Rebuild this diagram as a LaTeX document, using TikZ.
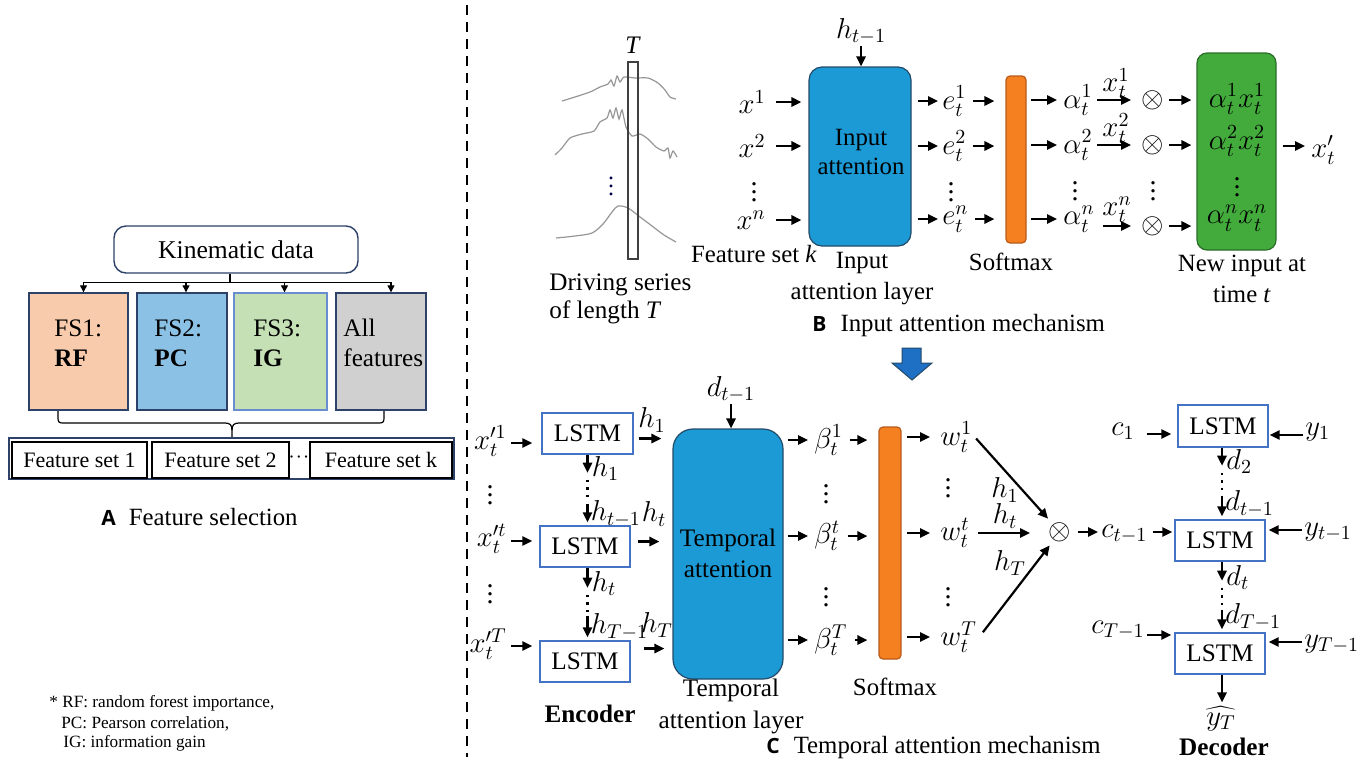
\documentclass[tikz,border=0pt]{standalone}
\usepackage{fontspec}
\setmainfont{Liberation Serif}
\newfontfamily\labfont{Open Sans}
\usetikzlibrary{arrows.meta,fit,calc}
\definecolor{attblue}{RGB}{27,154,214}
\definecolor{attborder}{RGB}{35,75,105}
\definecolor{smorange}{RGB}{245,128,31}
\definecolor{smborder}{RGB}{185,90,25}
\definecolor{grfill}{RGB}{66,171,60}
\definecolor{grborder}{RGB}{40,110,40}
\definecolor{lstmblue}{RGB}{68,114,196}
\definecolor{fsone}{RGB}{248,203,173}
\definecolor{fstwo}{RGB}{140,193,230}
\definecolor{fsthree}{RGB}{197,224,180}
\definecolor{fsall}{RGB}{208,208,208}
\definecolor{navy}{RGB}{45,65,105}
\definecolor{curvegray}{RGB}{150,150,150}
\definecolor{bigarrow}{RGB}{30,112,196}
\tikzset{
  txt/.style={font=\fontsize{12.4}{14.5}\selectfont, inner sep=0pt},
  ml/.style={font=\fontsize{14}{16}\selectfont, inner sep=1pt},
  arr/.style={line width=1.1pt, -{Triangle[length=5pt,width=4.6pt]}},
  arrA/.style={line width=0.6pt, -{Triangle[length=3.5pt,width=3.5pt]}},
  thinline/.style={line width=0.6pt},
  attbox/.style={draw=attborder, fill=attblue, line width=0.6pt, inner sep=0pt},
  smbar/.style={draw=smborder, fill=smorange, line width=0.6pt, rounded corners=2pt, inner sep=0pt},
  lstm/.style={draw=lstmblue, line width=0.7pt, inner sep=0pt},
  lstmtxt/.style={inner sep=0pt, font=\fontsize{12.6}{14}\selectfont},
  fsbox/.style={draw=navy, line width=0.7pt, inner sep=0pt},
  fsetbox/.style={draw=black, line width=0.9pt, inner sep=0pt},
  fsettxt/.style={inner sep=0pt, font=\fontsize{11}{13}\selectfont},
  vdots/.style={line width=1.3pt, dash pattern=on 1.3pt off 2.4pt},
  lab/.style={font=\fontsize{12.4}{14.5}\selectfont, inner sep=0pt, anchor=west},
}
\newcommand{\panellab}[1]{{\fontsize{10.5}{12}\labfont\bfseries #1}}
\begin{document}
\begin{tikzpicture}[x=0.5pt,y=-0.5pt]
\useasboundingbox (0,0) rectangle (1363,761);

%%%%%%%%%%%%%%%% Panel A
\node[draw=navy, rounded corners=6pt, line width=0.7pt, inner sep=0pt, fit={(114,226)(358,273)}] (kin) {};
\node[inner sep=0pt, font=\fontsize{12.8}{15}\selectfont] (kint) at (kin.center) {Kinematic data};
\node[fsbox, fill=fsone,   fit={(29,293)(128,410)}] (fs1) {};
\node[fsbox, fill=fstwo,   fit={(137,293)(227,410)}] (fs2) {};
\node[fsbox, fill=fsthree, draw=lstmblue!80, fit={(234,293)(327,410)}] (fs3) {};
\node[fsbox, fill=fsall,   fit={(336,293)(426,410)}] (fs4) {};
\node[txt, font=\fontsize{12.6}{15}\selectfont, anchor=west, align=left] (fs1t) at (54,343) {FS1:\\\textbf{RF}};
\node[txt, font=\fontsize{12.6}{15}\selectfont, anchor=west, align=left] (fs2t) at (154,343) {FS2:\\\textbf{PC}};
\node[txt, font=\fontsize{12.6}{15}\selectfont, anchor=west, align=left] (fs3t) at (253,343) {FS3:\\\textbf{IG}};
\node[txt, font=\fontsize{12.6}{15}\selectfont, anchor=west, align=left] (fs4t) at (343,343) {All\\features};
\coordinate (ksplit) at ($(kin.south)+(-6,9)$);
\draw[thinline] (kin.south -| ksplit) -- (ksplit);
\draw[arrA] (ksplit) -| ([xshift=2.5pt]fs1.north);
\draw[arrA] (ksplit) -| ([xshift=2pt]fs2.north);
\draw[arrA] (ksplit) -| ([xshift=2pt]fs3.north);
\draw[arrA] (ksplit) -| ([xshift=5pt]fs4.north);
% brace
\draw[thinline] (58,411) -- (58,418) .. controls (58,422) and (59,423) .. (63,423) -- (225,423)
   .. controls (230,423) and (232,425) .. (232,430) -- (232,438);
\draw[thinline] (384,411) -- (384,418) .. controls (384,422) and (383,423) .. (379,423) -- (239,423)
   .. controls (234,423) and (232,425) .. (232,430);
\node[draw=navy, line width=0.6pt, inner sep=0pt, fit={(9,438)(454,479)}] (fsrow) {};
\node[fsetbox, fit={(12,442)(147,478)}] (fsa) {};
\node[fsettxt] (fsat) at (fsa.center) {Feature set 1};
\node[fsetbox, fit={(152,442)(289,478)}] (fsb) {};
\node[fsettxt] (fsbt) at (fsb.center) {Feature set 2};
\node[inner sep=0pt, font=\fontsize{11}{13}\selectfont] (fsdots) at (299,458) {$\cdot\!\cdot\!\cdot$};
\node[fsetbox, fit={(310,442)(452,478)}] (fsc) {};
\node[fsettxt] (fsct) at (fsc.center) {Feature set k};
\node[lab] (capA) at (101,517) {\panellab{A}\hspace{6.5pt}Feature selection};
% footnote
\node[anchor=west, inner sep=0pt, font=\fontsize{8.6}{10}\selectfont] (fn1) at (49,703) {* RF: random forest importance,};
\node[anchor=west, inner sep=0pt, font=\fontsize{8.6}{10}\selectfont] (fn2) at (61,724) {PC: Pearson correlation,};
\node[anchor=west, inner sep=0pt, font=\fontsize{8.6}{10}\selectfont] (fn3) at (63,743) {IG: information gain};

%%%%%%%%%%%%%%%% separator
\coordinate (sepT) at (467,5);
\coordinate (sepB) at (467,757);
\draw[line width=1.2pt, dash pattern=on 5pt off 3.5pt] (sepT) -- (sepB);

%%%%%%%%%%%%%%%% Panel B
% driving series
\draw[curvegray, line width=0.6pt] plot[smooth, tension=0.4] coordinates {(562,101) (575,97) (590,92) (600,87) (608,84) (611,80) (614,86) (617,76) (620,82) (624,77) (635,78) (648,78) (658,83) (665,90) (670,97) (676,99)};
\draw[curvegray, line width=0.6pt] plot[smooth, tension=0.4] coordinates {(555,155) (562,148) (570,138) (582,134) (594,131) (600,122) (607,118) (610,110) (613,118) (616,108) (619,119) (622,110) (626,127) (632,136) (640,134) (648,139) (656,147) (664,151) (668,148) (670,158) (673,151) (677,157)};
\draw[curvegray, line width=0.6pt] plot[smooth, tension=0.5] coordinates {(556,238) (575,236) (592,233) (603,224) (612,212) (618,206) (628,208) (640,217) (652,226) (664,235) (676,242)};
\node[draw=black!75, line width=0.7pt, inner sep=0pt, fit={(628,62)(638,259)}] (win) {};
\node[txt, font=\fontsize{12.6}{14}\selectfont] (Tlab) at (633,45) {\textit{T}};
\node[ml, font=\fontsize{12}{14}\selectfont, text=black!70!blue] (drdots) at (611,180) {$\vdots$};
\node[txt, anchor=west, align=left, font=\fontsize{12.6}{14}\selectfont] (drv) at (549,299) {Driving series\\of length \textit{T}};

% input attention
\node[attbox, rounded corners=6.5pt, fit={(809,67)(911,246)}] (ia) {};
\node[txt, align=center] (iat) at (861,152) {Input\\attention};
\node[ml] (hprev) at (861,31) {$h_{t-1}$};
\draw[arr, shorten <=0pt] (hprev) -- (ia.north -| hprev);
\node[ml, anchor=east] (x1) at (768,102) {$x^1$};
\node[ml, anchor=east] (x2) at (768,146) {$x^2$};
\node[ml] (xd) at (754,186) {$\vdots$};
\node[ml, anchor=east] (xn) at (768,220) {$x^n$};
\foreach \n in {x1,x2,xn}{
  \draw[arr, shorten <=4pt, shorten >=3.5pt] (\n.east) -- (\n.east -| ia.west);
}
\node[txt] (fsk) at (754,254) {Feature set \textit{k}};
\node[txt, align=center, font=\fontsize{12.4}{15.5}\selectfont] (ialay) at (862,279) {Input\\attention layer};

\node[ml, anchor=west] (e1) at (940,101) {$e_t^1$};
\node[ml, anchor=west] (e2) at (940,146) {$e_t^2$};
\node[ml] (ed) at (951,186) {$\vdots$};
\node[ml, anchor=west] (en) at (940,219) {$e_t^n$};
\node[smbar, fit={(1006,76)(1026,243)}] (sm1) {};
\node[txt] (sm1t) at (1011,262) {Softmax};
\foreach \n in {e1,e2,en}{
  \draw[arr, shorten <=3pt, shorten >=1pt] (ia.east |- \n.west) -- (\n.west);
  \draw[arr, shorten <=2pt, shorten >=5.5pt] (\n.east) -- (\n.east -| sm1.west);
}
\node[ml, anchor=west] (a1) at (1061,100) {$\alpha_t^1$};
\node[ml, anchor=west] (a2) at (1061,145) {$\alpha_t^2$};
\node[ml] (ad) at (1075,185) {$\vdots$};
\node[ml, anchor=west] (an) at (1061,219) {$\alpha_t^n$};
\foreach \n in {a1,a2,an}{
  \draw[arr, shorten <=2pt, shorten >=2pt] (sm1.east |- \n.west) -- (\n.west);
}
\node[ml, circle, inner sep=0.3pt] (o1) at (1153,100) {$\otimes$};
\node[ml, circle, inner sep=0.3pt] (o2) at (1153,145) {$\otimes$};
\node[ml] (od) at (1153,185) {$\vdots$};
\node[ml, circle, inner sep=0.3pt] (on) at (1153,226) {$\otimes$};
\draw[arr, shorten <=1pt, shorten >=3pt] (a1.east |- o1) -- node[ml, above=-1pt] (xa1) {$x_t^1$} (o1);
\draw[arr, shorten <=1pt, shorten >=3pt] (a2.east |- o2) -- node[ml, above=-1pt] (xa2) {$x_t^2$} (o2);
\draw[arr, shorten <=3pt, shorten >=3pt] (an.east |- on) -- node[ml, above=0pt] (xan) {$x_t^n$} (on);
\node[draw=grborder, fill=grfill, rounded corners=5pt, line width=0.6pt, inner sep=0pt, fit={(1197,53)(1276,250)}] (gr) {};
\node[ml] (g1) at (1237,99) {$\alpha_t^1 x_t^1$};
\node[ml] (g2) at (1237,141) {$\alpha_t^2 x_t^2$};
\node[ml] (gd) at (1237,181) {$\vdots$};
\node[ml] (gn) at (1237,218) {$\alpha_t^n x_t^n$};
\foreach \n in {o1,o2,on}{
  \draw[arr, shorten <=0pt, shorten >=2.5pt] (\n.east) -- (\n.east -| gr.west);
}
\node[ml, anchor=west] (xp) at (1309,150) {$x_t'$};
\draw[arr, shorten <=3pt, shorten >=2pt] (gr.east |- 0,146) -- (xp.west |- 0,146);
\node[txt, align=center, font=\fontsize{12.4}{15.5}\selectfont] (newin) at (1242,279) {New input at\\time \textit{t}};
\node[lab] (capB) at (812,326) {\panellab{B}\hspace{7pt}Input attention mechanism};

% big down arrow
\draw[draw=attborder, fill=bigarrow, line width=0.5pt] (902,348) -- (921,348) -- (921,363) -- (932,363) -- (912,380) -- (892,363) -- (902,363) -- cycle;

%%%%%%%%%%%%%%%% Panel C
% encoder
\node[lstm, fit={(542,413)(633,454)}] (L1) {};
\node[lstmtxt] (L1t) at (L1.center) {LSTM};
\node[lstm, fit={(540,526)(630,567)}] (L2) {};
\node[lstmtxt] (L2t) at (L2.center) {LSTM};
\node[lstm, fit={(540,641)(630,682)}] (L3) {};
\node[lstmtxt] (L3t) at (L3.center) {LSTM};
\node[ml, anchor=east] (xi1) at (509,441) {$x_t^{\prime 1}$};
\node[ml, anchor=east] (xit) at (509,539) {$x_t^{\prime t}$};
\node[ml, anchor=east] (xiT) at (509,644) {$x_t^{\prime T}$};
\node[ml] (xid1) at (490,489) {$\vdots$};
\node[ml] (xid2) at (490,588) {$\vdots$};
\draw[arr, shorten <=1pt, shorten >=4.5pt] ([yshift=-1pt]xi1.east) -- ([yshift=-1pt]xi1.east -| L1.west);
\draw[arr, shorten <=1pt, shorten >=3.5pt] ([yshift=-1pt]xit.east) -- ([yshift=-1pt]xit.east -| L2.west);
\draw[arr, shorten <=1pt, shorten >=3.5pt] ([yshift=-1pt]xiT.east) -- ([yshift=-1pt]xiT.east -| L3.west);

\node[attbox, rounded corners=10pt, fit={(673,429)(783,679)}] (TA) {};
\node[txt, align=center, font=\fontsize{12.6}{15.5}\selectfont] (TAt) at (728,553) {Temporal\\attention};
\node[ml] (dprev) at (731,389) {$d_{t-1}$};
\draw[arr] (dprev) -- (TA.north -| dprev);

\draw[arr, shorten <=2.5pt, shorten >=5.5pt] ([yshift=-2.5pt]L1.east) -- ([yshift=-2.5pt]L1.east -| TA.west);
\draw[arr, shorten <=3.5pt, shorten >=6.5pt] ([yshift=2.5pt]L2.east) -- ([yshift=2.5pt]L2.east -| TA.west);
\draw[arr, shorten <=6.5pt, shorten >=4pt] ([yshift=6.5pt]L3.east) -- ([yshift=6.5pt]L3.east -| TA.west);
\node[ml] (ho1) at (652,420) {$h_1$};
\node[ml] (hot) at (654,514) {$h_t$};
\node[ml] (hoT) at (657,625) {$h_T$};

% encoder vertical chain
\coordinate (ea) at ($(L1.south)+(0,18)$);
\draw[arr] (L1.south) -- (ea);
\draw[vdots] ($(ea)+(0,7)$) -- ($(ea)+(0,28)$);
\coordinate (eb) at ($(ea)+(0,31)$);
\draw[arr, shorten >=1.5pt] (eb) -- (eb |- L2.north);
\node[ml, anchor=west] (hd1) at ($(ea)+(2,-4)$) {$h_1$};
\node[ml, anchor=west] (hd2) at ($(eb)+(1,10)$) {$h_{t-1}$};
\coordinate (ec) at ($(L2.south -| ea)+(0,20)$);
\draw[arr] (L2.south -| ea) -- (ec);
\draw[vdots] ($(ec)+(0,7)$) -- ($(ec)+(0,26)$);
\coordinate (ed2) at ($(ec)+(0,28)$);
\draw[arr, shorten >=1.5pt] (ed2) -- (ed2 |- L3.north);
\node[ml, anchor=west] (hd3) at ($(ec)+(2,-4)$) {$h_t$};
\node[ml, anchor=west] (hd4) at ($(ed2)+(1,11)$) {$h_{T-1}$};

\node[txt, font=\fontsize{12.6}{14}\selectfont\bfseries] (enc) at (590,714) {Encoder};
\node[txt, align=center, font=\fontsize{12.6}{16}\selectfont] (TAlay) at (731,706) {Temporal\\attention layer};

% beta
\node[ml, anchor=west] (b1) at (812,440) {$\beta_t^1$};
\node[ml] (bd1) at (826,488) {$\vdots$};
\node[ml, anchor=west] (bt) at (812,536) {$\beta_t^t$};
\node[ml] (bd2) at (826,591) {$\vdots$};
\node[ml, anchor=west] (bT) at (812,640) {$\beta_t^T$};
\node[smbar, fit={(879,427)(901,659)}] (sm2) {};
\node[txt] (sm2t) at (895,687) {Softmax};
\node[ml, anchor=west] (w1) at (938,437) {$w_t^1$};
\node[ml] (wd1) at (948,482) {$\vdots$};
\node[ml, anchor=west] (wt) at (938,533) {$w_t^t$};
\node[ml] (wd2) at (948,591) {$\vdots$};
\node[ml, anchor=west] (wT) at (938,637) {$w_t^T$};
\foreach \b/\w in {b1/w1,bt/wt,bT/wT}{
  \draw[arr, shorten <=2pt, shorten >=2pt] (TA.east |- \b.west) -- (\b.west);
  \draw[arr, shorten <=2.5pt, shorten >=5.5pt] (\b.east) -- (\b.east -| sm2.west);
  \draw[arr, shorten <=2.5pt, shorten >=4pt] (sm2.east |- \w.west) -- (\w.west);
}
\node[ml, circle, inner sep=0.3pt] (ot) at (1060,532) {$\otimes$};
\draw[arr, shorten <=1pt, shorten >=1pt] (w1.east) -- (ot);
\draw[arr, shorten <=3pt, shorten >=7pt] (wt.east) -- (wt.east -| ot.west);
\draw[arr, shorten <=3pt, shorten >=0.5pt] (wT.east) -- (ot);
\node[ml] (hc1) at (1005,490) {$h_1$};
\node[ml] (hct) at (1005,516) {$h_t$};
\node[ml] (hcT) at (1010,563) {$h_T$};

% decoder
\node[lstm, fit={(1178,405)(1268,447)}] (D1) {};
\node[lstmtxt] (D1t) at (D1.center) {LSTM};
\node[lstm, fit={(1175,520)(1265,561)}] (D2) {};
\node[lstmtxt] (D2t) at (D2.center) {LSTM};
\node[lstm, fit={(1175,633)(1265,674)}] (D3) {};
\node[lstmtxt] (D3t) at (D3.center) {LSTM};
\node[ml, anchor=west] (ctm) at (1099,534) {$c_{t-1}$};
\draw[arr, shorten <=1pt, shorten >=0.5pt] (ot.east) -- (ctm.west |- ot.east);
\draw[arr, shorten <=1.5pt, shorten >=1pt] (ctm.east |- ot.east) -- (D2.west |- ot.east);
\node[ml, anchor=east] (c1) at (1137,431) {$c_1$};
\draw[arr, shorten <=5pt, shorten >=3pt] ([yshift=-1.5pt]c1.east) -- ([yshift=-1.5pt]c1.east -| D1.west);
\node[ml, anchor=east] (cT) at (1147,630) {$c_{T-1}$};
\draw[arr, shorten <=0pt, shorten >=1.5pt] ([yshift=-2.5pt]cT.east) -- ([yshift=-2.5pt]cT.east -| D3.west);
\node[ml, anchor=west] (y1) at (1303,432) {$y_1$};
\node[ml, anchor=west] (yt) at (1302,532) {$y_{t-1}$};
\node[ml, anchor=west] (yT) at (1302,644) {$y_{T-1}$};
\draw[arr, shorten <=0pt, shorten >=0.5pt] ([yshift=-1.5pt]y1.west) -- ([yshift=-1.5pt]y1.west -| D1.east);
\draw[arr, shorten <=0pt, shorten >=1.5pt] ([yshift=1pt]yt.west) -- ([yshift=1pt]yt.west -| D2.east);
\draw[arr, shorten <=0pt, shorten >=1.5pt] ([yshift=1pt]yT.west) -- ([yshift=1pt]yT.west -| D3.east);

\coordinate (da) at ($(D1.south)+(-1,18)$);
\draw[arr] (D1.south -| da) -- (da);
\draw[vdots] ($(da)+(0,7)$) -- ($(da)+(0,27)$);
\coordinate (db) at ($(da)+(0,30)$);
\draw[arr, shorten >=1.5pt] (db) -- (db |- D2.north);
\node[ml, anchor=west] (d2l) at ($(da)+(2,-4)$) {$d_2$};
\node[ml, anchor=west] (dtl) at ($(db)+(1,8)$) {$d_{t-1}$};
\coordinate (dc) at ($(D2.south -| da)+(0,19)$);
\draw[arr] (D2.south -| da) -- (dc);
\draw[vdots] ($(dc)+(0,7)$) -- ($(dc)+(0,26)$);
\coordinate (dd) at ($(dc)+(0,29)$);
\draw[arr, shorten >=1.5pt] (dd) -- (dd |- D3.north);
\node[ml, anchor=west] (dtl2) at ($(dc)+(2,-3)$) {$d_t$};
\node[ml, anchor=west] (dTl) at ($(dd)+(1,7)$) {$d_{T-1}$};
\node[ml] (yhat) at (1221,719) {$\widehat{y_T}$};
\draw[arr, shorten >=1pt] (D3.south -| da) -- (yhat.north -| da);
\node[txt, font=\fontsize{12.6}{14}\selectfont\bfseries] (dec) at (1224,747) {Decoder};
\node[lab] (capC) at (766,748) {\panellab{C}\hspace{7pt}Temporal attention mechanism};
\end{tikzpicture}
\end{document}
